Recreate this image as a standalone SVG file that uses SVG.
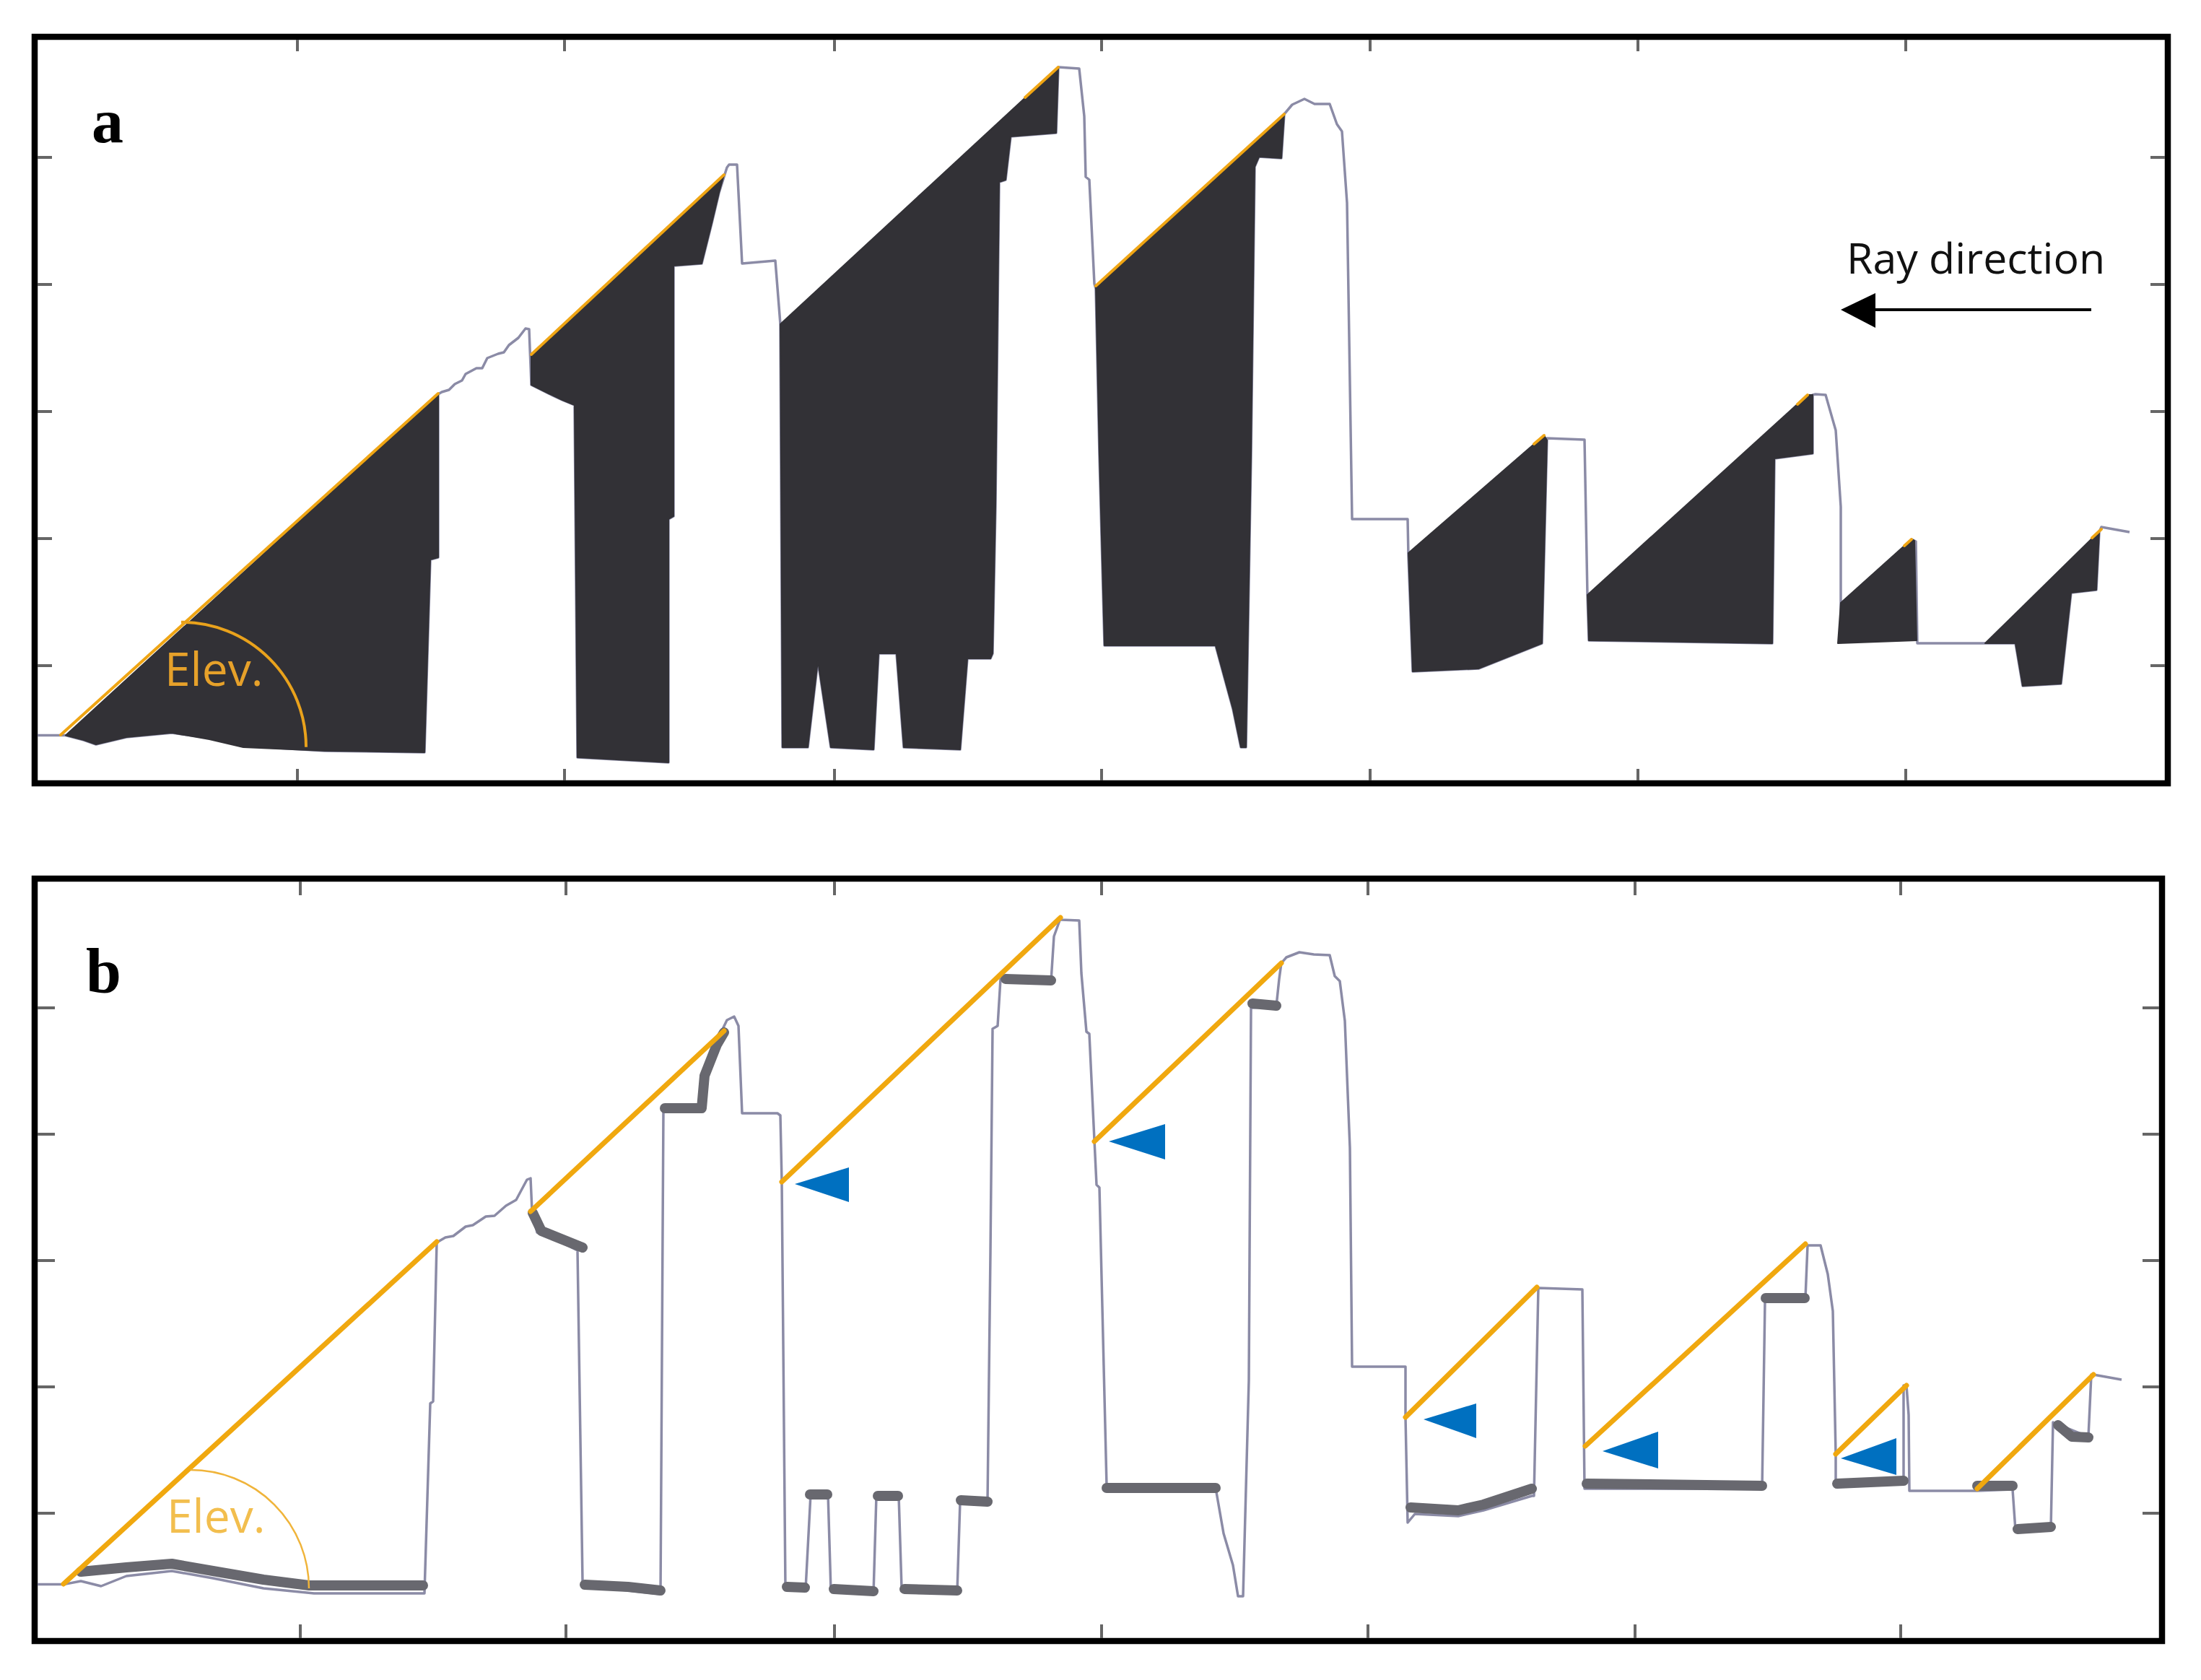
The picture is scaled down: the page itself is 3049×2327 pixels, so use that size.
<svg xmlns="http://www.w3.org/2000/svg" width="3049" height="2327" viewBox="0 0 3049 2327">
<style>
.frame{fill:none;stroke:#000;stroke-width:8.5}
.tick{stroke:#666;stroke-width:4}
.prof{fill:none;stroke:#8b8ba6;stroke-width:3.5;stroke-linejoin:round}
.shadow{fill:#323136;stroke:#323136;stroke-width:2;stroke-linejoin:round}
.orA{stroke:#EFA514;stroke-width:4;fill:none;stroke-linecap:round}
.orB{stroke:#F0A80F;stroke-width:7;fill:none;stroke-linecap:round}
.thick{fill:none;stroke:#68686f;stroke-width:14;stroke-linejoin:round;stroke-linecap:round}
.tri{fill:#0070C0}
.lbl{font-family:"Liberation Serif","Times New Roman",serif;font-weight:bold;font-size:88px;fill:#000}
.elev{font-family:"Open Sans","Liberation Sans",sans-serif;font-size:64px}
</style>
<rect width="3049" height="2327" fill="#fff"/>

<g id="panel-a">
  <rect class="frame" x="48" y="51" width="2955" height="1034"/>
  <g id="ticks-a">
    <path class="tick" d="M52 218H72M52 394H72M52 570H72M52 746H72M52 922H72M2979 218H2999M2979 394H2999M2979 570H2999M2979 746H2999M2979 922H2999M412 55V71M782 55V71M1156 55V71M1526 55V71M1898 55V71M2269 55V71M2640 55V71M412 1065V1081M782 1065V1081M1156 1065V1081M1526 1065V1081M1898 1065V1081M2269 1065V1081M2640 1065V1081"/>
  </g>
  <text class="lbl" x="127" y="197">a</text>
  <polyline class="prof" points="52,1018.6 91,1018.6 116,1025 133,1031 175,1021 238,1015 290,1022 337,1033 450,1040 588,1042 596,775 607,772 607,546 612,543 622,540 630,532 640,527 645,518 660,510 668,510 675,496 690,490 698,488 705,478 718,468 728,455 733,456 736,533 760,545 779,554 796,561 800,1049 926,1056 926,719 933,715 933,368 972,365 986,309 996,267 1007,232 1010,228 1021,228 1028,365 1074,361 1081,449 1084,1035 1119,1035 1133,915 1151,1035 1210,1038 1217,905 1242,905 1252,1035 1330,1038 1340,912 1372,912 1375,905 1379,701 1384,252 1393,249 1400,189 1463,184 1466,93 1495,95 1502,161 1504,245 1509,249 1516,393 1518,400 1523,631 1530,894 1684,894 1708,982 1719,1035 1726,1035 1733,631 1738,231 1744,217 1775,219 1779,158 1790,145 1807,137 1821,144 1842,144 1852,172 1859,182 1866,281 1873,719 1950,719 1951,770 1957,930 2048,926 2136,891 2143,607 2195,609 2199,824 2201,887 2455,891 2458,635 2511,628 2511,547 2515,546 2529,547 2543,596 2550,702 2550,835 2550,888 2648,886 2648,747 2654,750 2656,891 2750,891 2792,891 2802,950 2855,947 2869,821 2904,817 2908,737 2911,730 2950,737"/>
  <g id="shadows-a">
    <polygon class="shadow" points="91,1018.6 607,546 607,772 596,775 588,1042 450,1040 337,1035 290,1024 238,1015 175,1021 133,1031 116,1025"/>
    <polygon class="shadow" points="736,491 1003,242 996,267 986,309 972,365 933,368 933,715 926,719 926,1056 800,1049 796,561 779,554 760,545 736,533"/>
    <polygon class="shadow" points="1081,449 1466,93 1463,184 1400,189 1393,249 1384,252 1379,701 1375,905 1372,912 1340,912 1330,1038 1252,1035 1242,905 1217,905 1210,1038 1151,1035 1133,915 1119,1035 1084,1035"/>
    <polygon class="shadow" points="1518,396 1779,158 1775,219 1744,217 1738,231 1733,631 1726,1035 1719,1035 1708,982 1684,894 1530,894 1523,631"/>
    <polygon class="shadow" points="1951,766 2139,603 2143,610 2136,891 2048,926 1957,930"/>
    <polygon class="shadow" points="2199,824 2504,547 2511,547 2511,628 2458,635 2455,891 2201,887"/>
    <polygon class="shadow" points="2550,835 2648,747 2652,749 2655,887 2546,891"/>
    <polygon class="shadow" points="2750,891 2911,733 2908,737 2904,817 2869,821 2855,947 2802,950 2792,891"/>
  </g>
  <g id="rays-a">
    <path class="orA" d="M84 1018L607 545M736 491L1003 242M1420 135L1466 93M1518 396L1779 158M2125 615L2139 603M2490 560L2504 547M2638 756L2648 747M2898 745L2911 733"/>
    <path d="M251 861.7A173 173 0 0 1 424 1034.7" fill="none" stroke="#E9A21C" stroke-width="4"/>
    <text class="elev" x="228" y="950" fill="#E6A12A">Elev.</text>
  </g>
  <g id="ray-direction">
    <text x="2558" y="379" font-family="Open Sans, Liberation Sans, sans-serif" font-size="59" fill="#111">Ray direction</text>
    <line x1="2897" y1="429" x2="2594" y2="429" stroke="#000" stroke-width="4"/>
    <polygon points="2550,429 2598,406 2598,454" fill="#000"/>
  </g>
</g>

<g id="panel-b">
  <rect class="frame" x="48" y="1217" width="2947" height="1056"/>
  <g id="ticks-b">
    <path class="tick" d="M52 1396H76M52 1571H76M52 1746H76M52 1921H76M52 2096H76M2968 1396H2991M2968 1571H2991M2968 1746H2991M2968 1921H2991M2968 2096H2991M416 1221V1240M784 1221V1240M1156 1221V1240M1526 1221V1240M1895 1221V1240M2265 1221V1240M2633 1221V1240M416 2250V2269M784 2250V2269M1156 2250V2269M1526 2250V2269M1895 2250V2269M2265 2250V2269M2633 2250V2269"/>
  </g>
  <text class="lbl" x="119" y="1375">b</text>
  <polyline class="prof" points="52,2194.6 88,2194.6 112,2190 140,2197 175,2183 238,2176 295,2186 365,2200 435,2207 588,2207 596,1944 600,1941 605,1721 617,1714 628,1712 645,1699 655,1697 673,1685 685,1684 701,1670 715,1662 730,1634 735,1632 737,1677 744,1707 772,1718 800,1732 807,2190 807,2196 915,2208 919,1538 972,1538 979,1473 996,1436 1007,1413 1017,1408 1023,1421 1028,1542 1077,1542 1081,1545 1083,1637 1088,2200 1116,2201 1123,2069 1147,2069 1151,2204 1210,2208 1214,2072 1245,2072 1249,2200 1326,2204 1330,2080 1368,2080 1372,1736 1375,1425 1382,1421 1386,1356 1456,1359 1460,1297 1469,1272 1470,1274 1495,1275 1498,1348 1505,1429 1509,1432 1516,1579 1519,1641 1523,1645 1533,2058 1684,2061 1695,2124 1708,2168 1715,2211 1722,2211 1730,1912 1733,1396 1768,1394 1772,1356 1775,1334 1782,1326 1800,1319 1820,1322 1842,1323 1849,1352 1856,1359 1863,1414 1870,1590 1873,1893 1947,1893 1947,1963 1950,2109 1960,2097 2020,2100 2055,2092 2122,2072 2125,2072 2131,1784 2192,1786 2195,2062 2441,2062 2445,1802 2501,1798 2504,1725 2522,1725 2532,1765 2539,1816 2543,2014 2543,2058 2637,2054 2637,1919 2641,1919 2644,1960 2645,2065 2739,2065 2788,2063 2792,2120 2841,2118 2844,1970 2893,1990 2897,1904 2900,1904 2939,1911"/>
  <g id="ground-b">
    <polyline class="thick" points="112,2177 175,2171 238,2166 295,2176 365,2188 428,2196 586,2196"/>
    <polyline class="thick" points="738,1680 750,1705 807,1728"/>
    <polyline class="thick" points="810,2195 870,2198 915,2203"/>
    <polyline class="thick" points="921,1535 972,1535 976,1490 993,1447 1003,1430"/>
    <polyline class="thick" points="1090,2198 1115,2199"/>
    <polyline class="thick" points="1122,2070 1146,2070"/>
    <polyline class="thick" points="1155,2201 1210,2204"/>
    <polyline class="thick" points="1216,2072 1244,2072"/>
    <polyline class="thick" points="1253,2201 1326,2203"/>
    <polyline class="thick" points="1331,2078 1368,2080"/>
    <polyline class="thick" points="1393,1356 1456,1358"/>
    <polyline class="thick" points="1533,2061 1684,2061" stroke-width="16"/>
    <polyline class="thick" points="1735,1390 1768,1393"/>
    <polyline class="thick" points="1954,2088 2020,2092 2055,2084 2122,2062"/>
    <polyline class="thick" points="2198,2055 2441,2058"/>
    <polyline class="thick" points="2446,1798 2500,1798"/>
    <polyline class="thick" points="2545,2055 2637,2051"/>
    <polyline class="thick" points="2739,2058 2788,2058"/>
    <polyline class="thick" points="2795,2118 2841,2115"/>
    <polyline class="thick" points="2851,1974 2870,1990 2893,1991"/>
  </g>
  <g id="rays-b">
    <path class="orB" d="M88 2194L605 1720M735 1678L1003 1428M1083 1637L1469 1271M1516 1581L1775 1334M1947 1963L2129 1783M2196 2003L2501 1723M2543 2014L2641 1919M2739 2062L2900 1904"/>
    <path d="M264 2036A164 164 0 0 1 428 2200" fill="none" stroke="#F0B43A" stroke-width="2.5"/>
    <text class="elev" x="231" y="2123" fill="#F2BE4E">Elev.</text>
  </g>
  <g id="markers-b">
    <polygon class="tri" points="1101,1640 1176,1617 1176,1665"/>
    <polygon class="tri" points="1536,1581 1614,1557 1614,1606"/>
    <polygon class="tri" points="1972,1966 2045,1944 2045,1992"/>
    <polygon class="tri" points="2220,2010 2297,1983 2297,2034"/>
    <polygon class="tri" points="2550,2020 2627,1992 2627,2043"/>
  </g>
</g>
</svg>
